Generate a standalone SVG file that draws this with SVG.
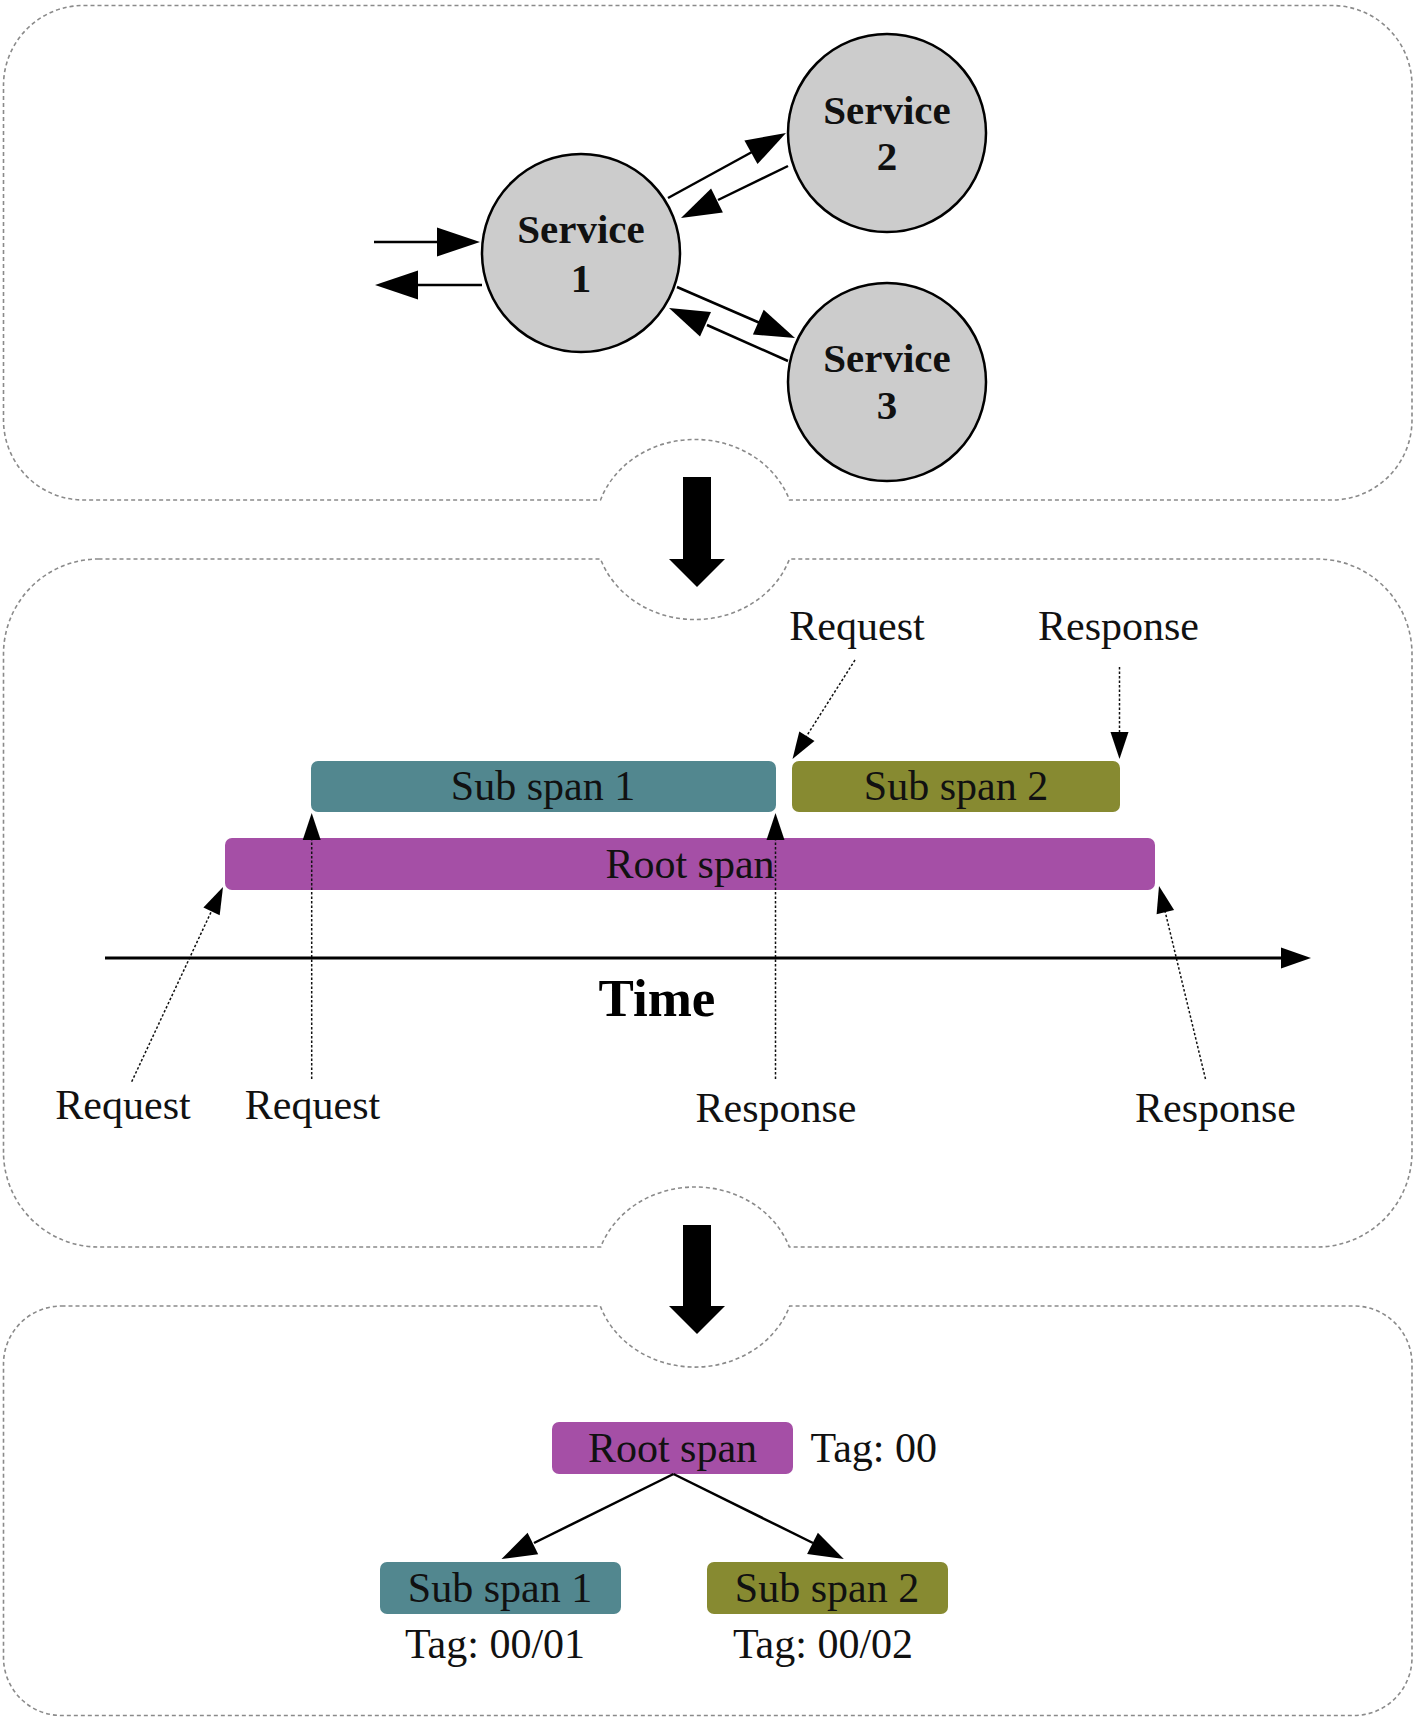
<svg xmlns="http://www.w3.org/2000/svg" width="1416" height="1720" viewBox="0 0 1416 1720">
<style>
.panel{fill:none;stroke:#8a8a8a;stroke-width:1.6;stroke-dasharray:4 3}
.svc{fill:#cccccc;stroke:#000;stroke-width:2.5}
.svct{font-family:"Liberation Serif",serif;font-weight:bold;font-size:41px;fill:#111;text-anchor:middle}
.lbl{font-family:"Liberation Serif",serif;font-size:42px;fill:#111;text-anchor:middle}
.solid{stroke:#000;stroke-width:2.5;fill:none}
.dot{stroke:#111;stroke-width:1.5;stroke-dasharray:2.5 2;fill:none}
.head{fill:#000}
.teal{fill:#52878f}
.olive{fill:#878a31}
.purple{fill:#a54fa6}
</style>
<rect width="1416" height="1720" fill="#fff"/>
<g id="panels">
<path class="panel" d="M83.5,5.5 H1332 A80,80 0 0 1 1412,85.5 V420 A80,80 0 0 1 1332,500 H789.5 A100,90 0 0 0 600.5,500 H83.5 A80,80 0 0 1 3.5,420 V85.5 A80,80 0 0 1 83.5,5.5 Z"/>
<path class="panel" d="M98.5,559 H600.5 A100,90 0 0 0 789.5,559 H1317 A95,95 0 0 1 1412,654 V1152 A95,95 0 0 1 1317,1247 H789.3 A100,90 0 0 0 600.7,1247 H98.5 A95,95 0 0 1 3.5,1152 V654 A95,95 0 0 1 98.5,559 Z"/>
<path class="panel" d="M61.5,1306 H600.3 A100,90 0 0 0 789.7,1306 H1354 A58,58 0 0 1 1412,1364 V1657.5 A58,58 0 0 1 1354,1715.5 H61.5 A58,58 0 0 1 3.5,1657.5 V1364 A58,58 0 0 1 61.5,1306 Z"/>
<polygon class="head" points="683,477 711,477 711,559 725,559 697,587 669,559 683,559"/>
<polygon class="head" points="683,1225 711,1225 711,1306 725,1306 697,1334 669,1306 683,1306"/>
</g>
<g id="service1">
<circle class="svc" cx="581" cy="253" r="99"/>
<text class="svct" x="581" y="243">Service</text>
<text class="svct" x="581" y="292">1</text>
</g>
<g id="service2">
<circle class="svc" cx="887" cy="133" r="99"/>
<text class="svct" x="887" y="124">Service</text>
<text class="svct" x="887" y="170">2</text>
</g>
<g id="service3">
<circle class="svc" cx="887" cy="382" r="99"/>
<text class="svct" x="887" y="372">Service</text>
<text class="svct" x="887" y="419">3</text>
</g>
<g id="timeline-spans">
<rect id="tl-sub1" class="teal" x="311" y="761" width="465" height="51" rx="7"/>
<text class="lbl" x="543" y="800">Sub span 1</text>
<rect id="tl-sub2" class="olive" x="792" y="761" width="328" height="51" rx="7"/>
<text class="lbl" x="956" y="800">Sub span 2</text>
<rect id="tl-root" class="purple" x="225" y="838" width="930" height="52" rx="7"/>
<text class="lbl" x="690" y="878">Root span</text>
</g>
<g id="timeline-labels">
<text class="lbl" x="857" y="640">Request</text>
<text class="lbl" x="1118.5" y="640">Response</text>
<text class="lbl" x="123" y="1119">Request</text>
<text class="lbl" x="312.5" y="1119">Request</text>
<text class="lbl" x="776" y="1122">Response</text>
<text class="lbl" x="1215.5" y="1122">Response</text>
<text x="657" y="1016" style="font-family:'Liberation Serif',serif;font-weight:bold;font-size:53px;fill:#000;text-anchor:middle">Time</text>
</g>
<g id="tree-root">
<rect class="purple" x="552" y="1422" width="241" height="52" rx="7"/>
<text class="lbl" x="672.5" y="1462">Root span</text>
<text class="lbl" x="810.5" y="1462" style="text-anchor:start">Tag: 00</text>
</g>
<g id="tree-sub1">
<rect class="teal" x="380" y="1562" width="241" height="52" rx="7"/>
<text class="lbl" x="500" y="1602">Sub span 1</text>
<text class="lbl" x="495" y="1658">Tag: 00/01</text>
</g>
<g id="tree-sub2">
<rect class="olive" x="707" y="1562" width="241" height="52" rx="7"/>
<text class="lbl" x="827" y="1602">Sub span 2</text>
<text class="lbl" x="823" y="1658">Tag: 00/02</text>
</g>
<g id="connectors">
<line class="solid" x1="374" y1="242" x2="440" y2="242"/>
<polygon class="head" points="437,227.5 480,242 437,256.5"/>
<line class="solid" x1="482" y1="285" x2="415" y2="285"/>
<polygon class="head" points="418,270.5 375,285 418,299.5"/>
<line class="solid" x1="668" y1="198" x2="752" y2="152"/>
<polygon class="head" points="757.5,164.1 786,133 744.4,140.5"/>
<line class="solid" x1="788" y1="166" x2="718" y2="200"/>
<polygon class="head" points="722.9,212.6 681,218 711.1,188.4"/>
<line class="solid" x1="677" y1="287" x2="760" y2="323"/>
<polygon class="head" points="752.9,334.5 795,338 763.7,309.7"/>
<line class="solid" x1="788" y1="361" x2="707" y2="325"/>
<polygon class="head" points="711,312 669,308 700,336.6"/>
<line class="dot" x1="855" y1="660" x2="806" y2="737"/>
<polygon class="head" points="814.5,741 792.5,759 799.3,731.4"/>
<line class="dot" x1="1119.5" y1="667" x2="1119.5" y2="734"/>
<polygon class="head" points="1110.5,732 1128.5,732 1119.5,759"/>
<line class="dot" x1="311.7" y1="1079" x2="311.7" y2="838"/>
<polygon class="head" points="302.7,840 320.7,840 311.7,813"/>
<line class="dot" x1="775.5" y1="1079" x2="775.5" y2="838"/>
<polygon class="head" points="766.5,840 784.5,840 775.5,813"/>
<line class="dot" x1="131.7" y1="1081.7" x2="212" y2="910"/>
<polygon class="head" points="219.7,915.3 223,887 203.4,907.6"/>
<line class="dot" x1="1205.5" y1="1079" x2="1165" y2="911"/>
<polygon class="head" points="1174.1,910.1 1159,886 1156.6,914.3"/>
<line x1="105" y1="958" x2="1283" y2="958" stroke="#000" stroke-width="3"/>
<polygon class="head" points="1281,947.5 1311,958 1281,968.5"/>
<line class="solid" x1="673.5" y1="1474" x2="534" y2="1543"/>
<polygon class="head" points="538.2,1554.3 501.5,1559 527.6,1532.7"/>
<line class="solid" x1="673.5" y1="1474" x2="813" y2="1543"/>
<polygon class="head" points="807.1,1554.1 843.8,1559 817.9,1532.7"/>
</g>
</svg>
